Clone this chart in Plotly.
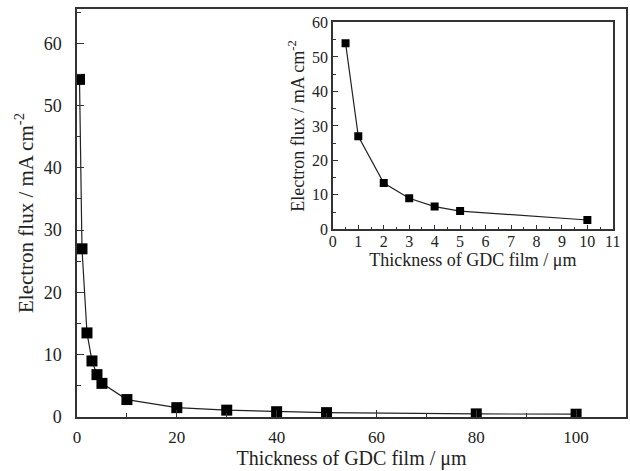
import plotly.graph_objects as go

thickness_main = [0.5, 1, 2, 3, 4, 5, 10, 20, 30, 40, 50, 80, 100]
flux_main = [54.2, 27.0, 13.5, 9.0, 6.8, 5.4, 2.8, 1.5, 1.1, 0.85, 0.7, 0.5, 0.45]

thickness_inset = [0.5, 1, 2, 3, 4, 5, 10]
flux_inset = [54.0, 27.0, 13.4, 9.0, 6.6, 5.3, 2.7]

FONT = "Liberation Serif"
AX = "#333333"
TXT = "#222222"

fig = go.Figure()
fig.add_trace(go.Scatter(
    x=thickness_main, y=flux_main, mode="lines+markers",
    line=dict(color="#222222", width=1.2),
    marker=dict(symbol="square", size=11, color="black"),
    xaxis="x", yaxis="y", showlegend=False,
))
fig.add_trace(go.Scatter(
    x=thickness_inset, y=flux_inset, mode="lines+markers",
    line=dict(color="#222222", width=1.2),
    marker=dict(symbol="square", size=8, color="black"),
    xaxis="x2", yaxis="y2", showlegend=False,
))

common = dict(showline=True, linecolor=AX, linewidth=1.5, mirror=True,
              ticks="inside", tickcolor=AX, showgrid=False, zeroline=False,
              automargin=False)

def f(size):
    return dict(family=FONT, size=size, color=TXT)

fig.update_layout(
    width=630, height=471,
    margin=dict(l=77, r=4, t=9, b=54),
    paper_bgcolor="white", plot_bgcolor="white",
    font=dict(family=FONT, color=TXT),
    xaxis=dict(**common, range=[0, 110], dtick=20, tick0=0, ticklen=7,
               minor=dict(ticks="inside", dtick=10, ticklen=4, tickcolor=AX),
               tickfont=f(17), ticklabelstandoff=4,
               title=dict(text="Thickness of GDC film / μm", font=f(20), standoff=3),
               domain=[0, 1]),
    yaxis=dict(**common, range=[0, 65.5], dtick=10, tick0=0, ticklen=7,
               minor=dict(ticks="inside", dtick=5, ticklen=4, tickcolor=AX),
               tickfont=f(18), ticklabelstandoff=10,
               title=dict(text="Electron flux / mA cm<sup>-2</sup>", font=f(21), standoff=4),
               domain=[0, 1]),
    xaxis2=dict(**common, range=[0, 11], dtick=1, tick0=0, ticklen=5,
                minor=dict(ticks="inside", dtick=0.5, ticklen=3, tickcolor=AX),
                tickfont=f(16), ticklabelstandoff=-3,
                title=dict(text="Thickness of GDC film / μm", font=f(18), standoff=0),
                domain=[0.466, 0.976], anchor="y2"),
    yaxis2=dict(**common, range=[0, 60], dtick=10, tick0=0, ticklen=5,
                minor=dict(ticks="inside", dtick=5, ticklen=3, tickcolor=AX),
                tickfont=f(16), ticklabelstandoff=0,
                title=dict(text="Electron flux / mA cm<sup>-2</sup>", font=f(18), standoff=3),
                domain=[0.460, 0.967], anchor="x2"),
)

fig.write_html(
    "out.html",
    config={"displayModeBar": False},
    post_script="document.body.style.margin='0';document.body.style.overflow='hidden';",
)
